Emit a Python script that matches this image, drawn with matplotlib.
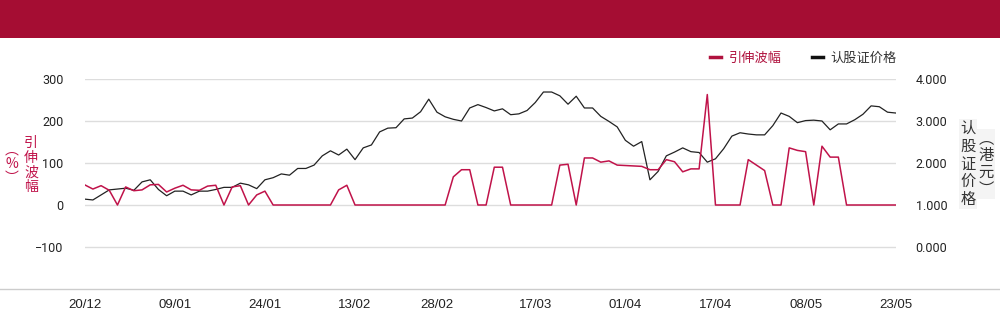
import numpy as np
import matplotlib
matplotlib.use("Agg")
import matplotlib.pyplot as plt
from matplotlib.lines import Line2D
from matplotlib.patches import Rectangle

plt.rcParams['font.family'] = ['Roboto', 'Noto Sans CJK SC', 'DejaVu Sans']

# 引伸波幅 (%)
vol = [48, 38, 46, 35, 0, 43, 34, 36, 48, 49, 31, 40, 47, 36, 35, 45, 47, 0, 43, 46,
       0, 24, 33, 0, 0, 0, 0, 0, 0, 0, 0, 36, 47, 0, 0, 0, 0, 0, 0, 0,
       0, 0, 0, 0, 0, 67, 84, 84, 0, 0, 90, 90, 0, 0, 0, 0, 0, 0, 95, 97,
       0, 112, 112, 102, 105, 95, 94, 93, 92, 84, 84, 108, 103, 79, 86, 86, 263, 0, 0, 0,
       0, 108, 95, 82, 0, 0, 136, 130, 127, 0, 140, 114, 114, 0, 0, 0, 0, 0, 0, 0]

# 认股证价格 (港元)
price = [1.14, 1.12, 1.24, 1.36, 1.38, 1.40, 1.35, 1.55, 1.60, 1.37, 1.22, 1.33, 1.33, 1.24, 1.33,
         1.33, 1.37, 1.42, 1.42, 1.52, 1.48, 1.39, 1.60, 1.65, 1.74, 1.71, 1.87, 1.87, 1.95, 2.17,
         2.29, 2.19, 2.33, 2.08, 2.36, 2.43, 2.74, 2.83, 2.84, 3.05, 3.07, 3.22, 3.52, 3.21, 3.10,
         3.04, 3.00, 3.31, 3.39, 3.32, 3.24, 3.29, 3.15, 3.17, 3.25, 3.44, 3.69, 3.69, 3.60, 3.40,
         3.59, 3.31, 3.31, 3.11, 2.99, 2.86, 2.54, 2.40, 2.51, 1.60, 1.80, 2.17, 2.26, 2.36, 2.27,
         2.25, 2.02, 2.10, 2.34, 2.64, 2.72, 2.69, 2.67, 2.67, 2.89, 3.19, 3.11, 2.96, 3.01, 3.02,
         3.00, 2.79, 2.93, 2.93, 3.03, 3.16, 3.36, 3.34, 3.21, 3.19]

tick_idx = [0, 11, 22, 33, 43, 55, 66, 77, 88, 99]
tick_labels = ['20/12', '09/01', '24/01', '13/02', '28/02', '17/03', '01/04', '17/04', '08/05', '23/05']

red = '#c0134a'
dark = '#222222'
x = np.arange(len(vol))

fig = plt.figure(figsize=(10, 3.24), dpi=100)
fig.add_artist(Rectangle((0, 1 - 38 / 324), 1, 38 / 324, transform=fig.transFigure,
                         facecolor='#a50d33', edgecolor='none'))

ax = fig.add_axes([0.0847, 1 - 289 / 324, 0.811, (289 - 79) / 324])
ax2 = ax.twinx()
ax.set_zorder(2)
ax2.set_zorder(1)
ax.patch.set_visible(False)

ax2.plot(x, price, color=dark, lw=0.9)
ax.plot(x, vol, color=red, lw=1.1)

ax.set_xlim(0, len(vol) - 1)
ax.set_ylim(-200, 300)
ax2.set_ylim(-1, 4)

ax.set_yticks([-100, 0, 100, 200, 300])
ax2.set_yticks([0, 1, 2, 3, 4])
ax2.set_yticklabels([f"{v:.3f}" for v in [0, 1, 2, 3, 4]])
ax2.grid(axis='y', color='#dddddd', lw=1)

ax.set_xticks(tick_idx)
ax.set_xticklabels(tick_labels, family=['Liberation Sans', 'DejaVu Sans'], fontsize=9.5,
                   color='#222222')
ax.tick_params(axis='x', length=0, pad=7)
ax.tick_params(axis='y', length=0, pad=15.4, labelsize=9, labelcolor='#222222')
ax2.tick_params(axis='y', length=0, pad=14.4, labelsize=9, labelcolor='#222222')

for a in (ax, ax2):
    for s in a.spines.values():
        s.set_visible(False)

fig.add_artist(Line2D([0, 1], [1 - 289 / 324, 1 - 289 / 324], transform=fig.transFigure,
                      color='#cccccc', lw=1))

cjk = ['Noto Sans CJK SC', 'DejaVu Sans']
fig.text(31 / 1000, 1 - 165 / 324, "引\n伸\n波\n幅", ha='center', va='center', color=red,
         fontsize=10, linespacing=1.05, family=cjk)
fig.text(12 / 1000, 1 - 164 / 324, "︵\n%\n︶", ha='center', va='center', color=red,
         fontsize=10, linespacing=1.0, family=cjk)
fig.text(968 / 1000, 1 - 164 / 324, "认\n股\n证\n价\n格", ha='center', va='center', color='#333333',
         fontsize=11, linespacing=1.05, family=cjk,
         bbox=dict(facecolor='#f4f4f4', edgecolor='none', pad=1))
fig.text(986 / 1000, 1 - 164 / 324, "︵\n港\n元\n︶", ha='center', va='center', color='#333333',
         fontsize=11, linespacing=1.0, family=cjk,
         bbox=dict(facecolor='#f4f4f4', edgecolor='none', pad=1))

handles = [Line2D([], [], color='#b0123e', lw=2.5), Line2D([], [], color='#111111', lw=2.5)]
fig.legend(handles, ['引伸波幅', '认股证价格'], loc='center right',
           bbox_to_anchor=(897 / 1000, 1 - 58 / 324), ncol=2, frameon=False,
           handlelength=0.8, handletextpad=0.6, columnspacing=2.3, borderpad=0,
           borderaxespad=0, prop={'family': cjk, 'size': 9.5},
           labelcolor=['#b0123e', '#333333'])

fig.savefig('out.png', dpi=100)
